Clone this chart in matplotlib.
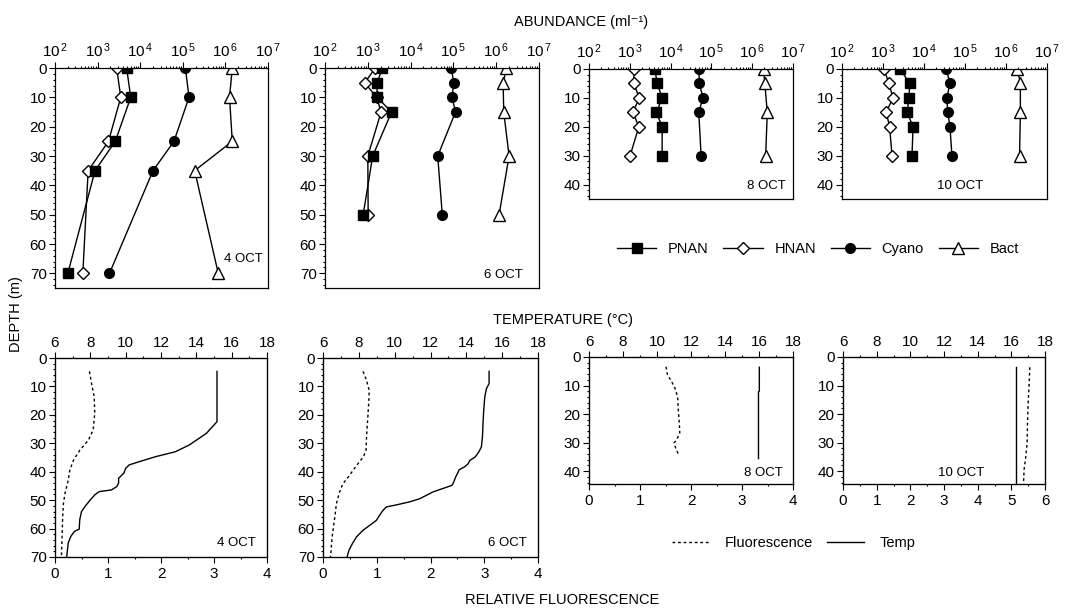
import matplotlib
matplotlib.use('Agg')
import matplotlib.pyplot as plt
from matplotlib.lines import Line2D
from matplotlib.ticker import (MultipleLocator, LogLocator, NullFormatter, FixedLocator,
                               FuncFormatter)
import math

plt.rcParams['font.family'] = ['Liberation Sans', 'DejaVu Sans']
plt.rcParams['mathtext.fontset'] = 'custom'
plt.rcParams['mathtext.rm'] = 'Liberation Sans'
plt.rcParams['mathtext.it'] = 'Liberation Sans:italic'
plt.rcParams['mathtext.bf'] = 'Liberation Sans:bold'

# ---------------- abundance data (cells per ml) ----------------
dates = ['4 OCT', '6 OCT', '8 OCT', '10 OCT']

depth_4 = [0, 10, 25, 35, 70]
pnan_4 = [4800, 6000, 2600, 870, 200]
hnan_4 = [2800, 3500, 1800, 600, 450]
cyano_depth_4 = [0, 10, 25, 35, 70]
cyano_4 = [1.15e5, 1.4e5, 6.2e4, 2.0e4, 1.9e3]
bact_depth_4 = [0, 10, 25, 35, 70]
bact_4 = [1.45e6, 1.25e6, 1.45e6, 1.9e5, 6.8e5]

depth_6 = [0, 5, 10, 15, 30, 50]
pnan_6 = [2200, 1650, 1650, 3600, 1300, 780]
hnan_6 = [1500, 850, 1600, 2050, 1000, 1020]
cyano_depth_6 = [0, 5, 10, 15, 30, 50]
cyano_6 = [8.9e4, 1.02e5, 9.3e4, 1.12e5, 4.3e4, 5.5e4]
bact_depth_6 = [0, 5, 15, 30, 50]
bact_6 = [1.74e6, 1.45e6, 1.5e6, 2.0e6, 1.17e6]

depth_8 = [0, 5, 10, 15, 20, 30]
pnan_8 = [4100, 4700, 6200, 4500, 6200, 6200]
hnan_8 = [1260, 1260, 1700, 1200, 1660, 1020]
cyano_depth_8 = [0, 5, 10, 15, 30]
cyano_8 = [4.9e4, 5.1e4, 6.2e4, 4.9e4, 5.6e4]
bact_depth_8 = [0, 5, 15, 30]
bact_8 = [1.9e6, 2.04e6, 2.34e6, 2.14e6]

depth_10 = [0, 5, 10, 15, 20, 30]
pnan_10 = [2600, 4500, 4300, 3900, 5400, 5100]
hnan_10 = [1050, 1400, 1740, 1200, 1450, 1660]
cyano_depth_10 = [0, 5, 10, 15, 20, 30]
cyano_10 = [3.5e4, 4.3e4, 3.6e4, 3.8e4, 4.3e4, 4.8e4]
bact_depth_10 = [0, 5, 15, 30]
bact_10 = [1.9e6, 2.24e6, 2.24e6, 2.14e6]

# ---------------- temperature / fluorescence profiles ----------------
temp_depth_4 = [4.7, 22.4, 26.5, 30.6, 33, 34.7, 36.4, 37.6, 38.8, 40.5, 42.3, 44, 45.2,
                46.4, 47, 48.1, 49.9, 52.2, 54, 56.9, 60.2, 61, 62.7, 65, 70]
temp_4 = [15.17, 15.17, 14.57, 13.6, 12.8, 11.7, 10.8, 10.2, 10.0, 9.9, 9.6, 9.6, 9.5,
          9.2, 8.5, 8.26, 8.0, 7.7, 7.5, 7.4, 7.37, 7.1, 6.9, 6.75, 6.66]
fl_depth_4 = [4.7, 9, 13.7, 19.5, 25.3, 28.9, 32.4, 35.9, 39.4, 42.9, 47.5, 51, 55.7, 65, 70]
fl_4 = [0.65, 0.69, 0.74, 0.75, 0.72, 0.63, 0.47, 0.35, 0.28, 0.25, 0.19, 0.16, 0.145, 0.13, 0.12]

temp_depth_6 = [4.7, 9, 10.8, 13.7, 18.4, 23.1, 27.8, 31.3, 33, 34.8, 36, 37.2, 38.3, 39.3,
                40.7, 41.9, 43.6, 44.8, 47.1, 48.3, 49.5, 50.6, 51.8, 52.4, 53.6, 55.3,
                57.1, 58.9, 60.6, 63, 65.3, 67.6, 70]
temp_6 = [15.27, 15.27, 15.12, 15.03, 14.97, 14.93, 14.9, 14.84, 14.7, 14.5, 14.2, 14.1,
          13.9, 13.6, 13.5, 13.4, 13.3, 13.2, 12.14, 11.77, 11.4, 10.84, 10.0, 9.53, 9.35,
          9.16, 8.98, 8.6, 8.23, 7.86, 7.64, 7.45, 7.34]
fl_depth_6 = [4.7, 7.9, 11.4, 16, 21.9, 27.8, 32.5, 34.8, 37.2, 39.5, 41.9, 44.2, 47.1,
              51.2, 55.9, 62.9, 70]
fl_6 = [0.745, 0.81, 0.86, 0.85, 0.83, 0.81, 0.8, 0.75, 0.65, 0.56, 0.47, 0.37, 0.31,
        0.25, 0.22, 0.17, 0.14]

temp_depth_8 = [3.6, 11.9, 12.2, 35.6]
temp_8 = [16.02, 16.02, 15.97, 15.97]
fl_depth_8 = [3.4, 6.3, 8.6, 11.5, 14.4, 18.5, 23.1, 26.6, 29, 30.1, 31.9, 34]
fl_8 = [1.51, 1.54, 1.62, 1.70, 1.74, 1.75, 1.77, 1.78, 1.72, 1.67, 1.70, 1.75]

temp_depth_10 = [3.4, 44.5]
temp_10 = [16.26, 16.26]
fl_depth_10 = [3.6, 9.2, 16.2, 23.1, 30.1, 34.8, 39.4, 44.4]
fl_10 = [5.55, 5.53, 5.50, 5.48, 5.47, 5.43, 5.38, 5.36]

abund_ticks = [1e2, 1e3, 1e4, 1e5, 1e6, 1e7]
temp_ticks = [6, 8, 10, 12, 14, 16, 18]

# ---------------- figure ----------------
W, H = 1085, 609
fig = plt.figure(figsize=(W / 100, H / 100), dpi=100)


def rect(l, r, t, b):
    return [l / W, 1 - b / H, (r - l) / W, (b - t) / H]


FS = 11
LW = 1.0
MS = 7


def log_fmt(v, pos):
    return r'$\mathdefault{10^{\,%d}}$' % int(round(math.log10(v)))


def style_depth(ax, ymax, ytick_max):
    ax.set_ylim(ymax, 0)
    ax.yaxis.set_major_locator(FixedLocator(list(range(0, ytick_max + 1, 10))))
    ax.yaxis.set_minor_locator(MultipleLocator(2))
    ax.tick_params(axis='y', which='major', length=4, width=0.8, labelsize=FS, pad=2)
    ax.tick_params(axis='y', which='minor', length=1.5, width=0.8)
    for s in ax.spines.values():
        s.set_linewidth(0.9)


top_rects = [rect(55, 268, 68, 288), rect(325, 539, 68, 288),
             rect(589, 793, 69, 199), rect(842, 1047, 69, 199)]
top_ylim = [75, 75, 45, 45]
top_ytmax = [70, 70, 40, 40]
top_label_pos = [(0.975, 0.13), (0.925, 0.06), (0.965, 0.10), (0.69, 0.10)]

abund = [
    (depth_4, pnan_4, depth_4, hnan_4, cyano_depth_4, cyano_4, bact_depth_4, bact_4),
    (depth_6, pnan_6, depth_6, hnan_6, cyano_depth_6, cyano_6, bact_depth_6, bact_6),
    (depth_8, pnan_8, depth_8, hnan_8, cyano_depth_8, cyano_8, bact_depth_8, bact_8),
    (depth_10, pnan_10, depth_10, hnan_10, cyano_depth_10, cyano_10, bact_depth_10, bact_10),
]

for i in range(4):
    ax = fig.add_axes(top_rects[i])
    dp, pn, dh, hn, dc, cy, db, ba = abund[i]
    ax.plot(hn, dh, color='black', lw=LW, marker='D', ms=MS * 0.85,
            mfc='white', mec='black', mew=1.0)
    ax.plot(pn, dp, color='black', lw=LW, marker='s', ms=MS, mfc='black', mec='black')
    ax.plot(cy, dc, color='black', lw=LW, marker='o', ms=MS, mfc='black', mec='black')
    ax.plot(ba, db, color='black', lw=LW, marker='^', ms=MS * 1.15,
            mfc='white', mec='black', mew=1.0)
    ax.set_xscale('log')
    ax.set_xlim(1e2, 1e7)
    ax.xaxis.set_major_locator(FixedLocator(abund_ticks))
    ax.xaxis.set_major_formatter(FuncFormatter(log_fmt))
    ax.xaxis.set_minor_locator(LogLocator(base=10, subs=range(2, 10), numticks=20))
    ax.xaxis.set_minor_formatter(NullFormatter())
    ax.xaxis.tick_top()
    ax.tick_params(axis='x', which='major', length=4, width=0.8, labelsize=FS, pad=2)
    ax.tick_params(axis='x', which='minor', length=1.5, width=0.8)
    style_depth(ax, top_ylim[i], top_ytmax[i])
    lx, ly = top_label_pos[i]
    ax.text(lx, ly, dates[i], transform=ax.transAxes, ha='right', va='center', fontsize=9.5)

bot_rects = [rect(55, 267, 358, 557), rect(323, 538, 358, 557),
             rect(589, 793, 357, 484), rect(843, 1045, 357, 484)]
bot_ylim = [70, 70, 44.5, 44.5]
bot_ytmax = [70, 70, 40, 40]
bot_fmax = [4, 4, 4, 6]
bot_label_pos = [(0.945, 0.07), (0.95, 0.07), (0.95, 0.09), (0.70, 0.09)]

profiles = [
    (fl_depth_4, fl_4, temp_depth_4, temp_4),
    (fl_depth_6, fl_6, temp_depth_6, temp_6),
    (fl_depth_8, fl_8, temp_depth_8, temp_8),
    (fl_depth_10, fl_10, temp_depth_10, temp_10),
]

for i in range(4):
    ax = fig.add_axes(bot_rects[i])
    fd, fv, td, tv = profiles[i]
    ax.plot(fv, fd, color='black', lw=LW, ls=(0, (2, 2)))
    ax.set_xlim(0, bot_fmax[i])
    ax.xaxis.set_major_locator(MultipleLocator(1))
    ax.xaxis.set_minor_locator(MultipleLocator(0.5))
    ax.tick_params(axis='x', which='major', length=4, width=0.8, labelsize=FS, pad=3)
    ax.tick_params(axis='x', which='minor', length=1.5, width=0.8)
    style_depth(ax, bot_ylim[i], bot_ytmax[i])
    axt = ax.twiny()
    axt.plot(tv, td, color='black', lw=LW)
    axt.set_xlim(6, 18)
    axt.xaxis.set_major_locator(FixedLocator(temp_ticks))
    axt.xaxis.set_minor_locator(MultipleLocator(1))
    axt.tick_params(axis='x', which='major', length=4, width=0.8, labelsize=FS, pad=2)
    axt.tick_params(axis='x', which='minor', length=1.5, width=0.8)
    axt.set_ylim(bot_ylim[i], 0)
    lx, ly = bot_label_pos[i]
    ax.text(lx, ly, dates[i], transform=ax.transAxes, ha='right', va='center', fontsize=9.5)

# ---------------- titles / axis labels ----------------
fig.text(581 / W, 1 - 22 / H, 'ABUNDANCE (ml⁻¹)', ha='center', va='center', fontsize=10.5)
fig.text(563 / W, 1 - 320 / H, 'TEMPERATURE (°C)', ha='center', va='center', fontsize=10.5)
fig.text(562 / W, 1 - 600 / H, 'RELATIVE FLUORESCENCE', ha='center', va='center', fontsize=10.5)
fig.text(16 / W, 1 - 314 / H, 'DEPTH (m)', ha='center', va='center', rotation=90, fontsize=10.5)

# ---------------- legends ----------------
h_top = [
    Line2D([], [], color='black', lw=LW, marker='s', ms=MS, mfc='black', mec='black'),
    Line2D([], [], color='black', lw=LW, marker='D', ms=MS * 0.85, mfc='white', mec='black'),
    Line2D([], [], color='black', lw=LW, marker='o', ms=MS, mfc='black', mec='black'),
    Line2D([], [], color='black', lw=LW, marker='^', ms=MS * 1.15, mfc='white', mec='black'),
]
fig.legend(h_top, ['PNAN', 'HNAN', 'Cyano', 'Bact'], loc='center',
           bbox_to_anchor=(818 / W, 1 - 249 / H), ncol=4, frameon=False, fontsize=10.5,
           handlelength=2.7, columnspacing=1.0, handletextpad=0.8)

h_bot = [Line2D([], [], color='black', lw=LW, ls=(0, (2, 2))),
         Line2D([], [], color='black', lw=LW)]
fig.legend(h_bot, ['Fluorescence', 'Temp'], loc='center',
           bbox_to_anchor=(794 / W, 1 - 543 / H), ncol=2, frameon=False, fontsize=10.5,
           handlelength=2.5, columnspacing=1.0, handletextpad=1.1)

fig.savefig('out.png', dpi=100)
